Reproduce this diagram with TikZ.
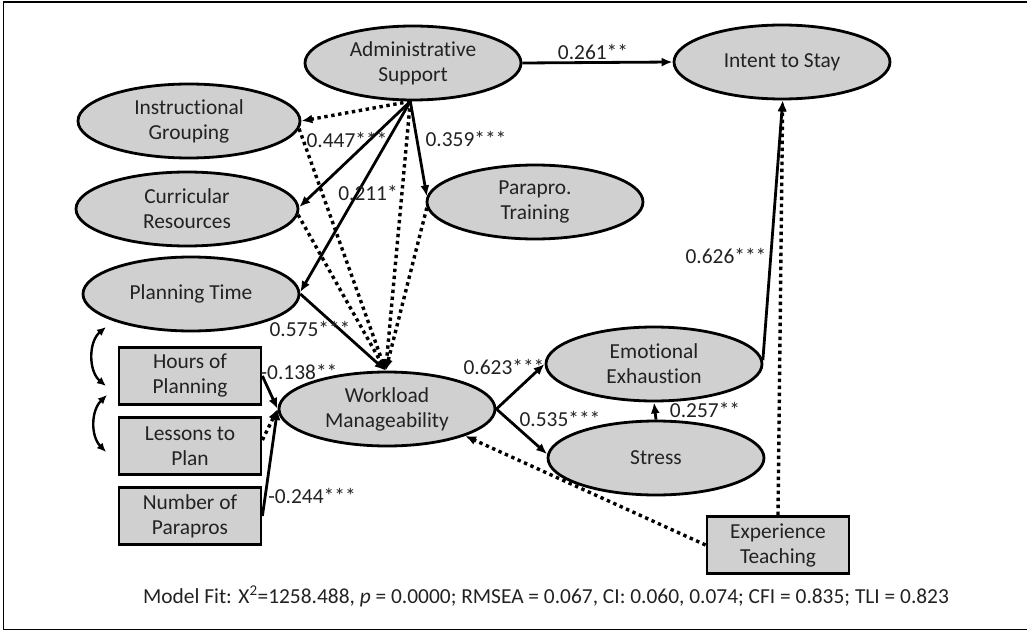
\documentclass[tikz,border=0pt]{standalone}
\usepackage{fontspec}
\setmainfont{Carlito}[Ligatures={NoCommon}]
\usetikzlibrary{shapes.geometric,arrows.meta}
\definecolor{nodegray}{RGB}{208,208,208}
\definecolor{ink}{RGB}{34,34,34}
\begin{document}
\begin{tikzpicture}[x=1pt,y=-1pt,
  txt/.style={font=\fontsize{21.4}{25}\selectfont,text=ink,align=center},
  ell/.style={txt,ellipse,draw=black,line width=2.8pt,fill=nodegray,inner sep=0pt,minimum width=216pt,minimum height=74pt},
  box/.style={txt,rectangle,draw=black,line width=2.8pt,fill=nodegray,inner sep=0pt,minimum width=142pt,minimum height=57pt},
  lbl/.style={txt,inner sep=0pt},
  sarr/.style={line width=2.8pt,-{Latex[length=11pt,width=9pt]}},
  darr/.style={line width=3.4pt,dash pattern=on 3.4pt off 3.6pt,-{Latex[length=11pt,width=9pt]}},
  carr/.style={line width=2.4pt,{Latex[length=9pt,width=8pt]}-{Latex[length=9pt,width=8pt]}}]
\useasboundingbox (0,0) rectangle (1027,631);
\draw[line width=1.6pt] (1030,2) -- (3.5,2) -- (3.5,629.5) -- (1030,629.5);

\node[ell] (adm) at (413,63) {Administrative\\Support};
\node[ell] (its) at (782,62) {Intent to Stay};
\node[ell,minimum width=222pt] (ig) at (189,121) {Instructional\\Grouping};
\node[ell,minimum width=222pt] (cr) at (187,209) {Curricular\\Resources};
\node[ell] (pp) at (535,202) {Parapro.\\Training};
\node[ell] (plt) at (191,294) {Planning Time};
\node[box] (hp) at (190,376) {Hours of\\Planning};
\node[box] (lp) at (190,446) {Lessons to\\Plan};
\node[box] (np) at (190,516) {Number of\\Parapros};
\node[ell] (wm) at (387,409) {Workload\\Manageability};
\node[ell] (ee) at (654,364) {Emotional\\Exhaustion};
\node[ell] (st) at (656,458) {Stress};
\node[box] (ex) at (778,545) {Experience\\Teaching};

\draw[sarr] (adm.east) -- (its.west);
\draw[darr] (adm.-94) -- (ig.0);
\draw[sarr] (adm.-94) -- (cr.1);
\draw[sarr] (adm.-94) -- (plt.1);
\draw[sarr] (adm.-94) -- (pp.177);
\draw[darr] (adm.-94) -- (wm.92);
\draw[darr] (ig.-4) -- (wm.92);
\draw[darr] (cr.-3) -- (wm.92);
\draw[darr] (pp.183) -- (wm.92);
\draw[sarr] (plt.east) -- (wm.92);
\draw[sarr] (hp.east) -- (wm.west);
\draw[darr] ([yshift=6pt]lp.east) -- (wm.west);
\draw[sarr] (np.east) -- (wm.west);
\draw[sarr] (wm.east) -- (ee.west);
\draw[sarr] (wm.east) -- (st.178);
\draw[sarr] (st.north) -- (ee.south);
\draw[sarr] (ee.2) -- (its.-89);
\draw[darr] (ex.north) -- (its.-89);
\draw[darr] (ex.west) -- (wm.-19);

\coordinate (ca1) at (106,327);
\coordinate (ca2) at (106,386);
\coordinate (ca3) at (107,395);
\coordinate (ca4) at (106,452);
\draw[carr] (ca1) to[bend right=50] (ca2);
\draw[carr] (ca3) to[bend right=45] (ca4);

\node[lbl] (l1) at (593,52) {0.261**};
\node[lbl] (l2) at (347,140) {0.447***};
\node[lbl] (l3) at (368,193) {0.211*};
\node[lbl] (l4) at (466,139) {0.359***};
\node[lbl] (l5) at (310,329) {0.575***};
\node[lbl] (l6) at (299,372) {-0.138**};
\node[lbl] (l7) at (312,496) {-0.244***};
\node[lbl] (l8) at (504,367) {0.623***};
\node[lbl] (l9) at (560,419) {0.535***};
\node[lbl] (l10) at (705,410) {0.257**};
\node[lbl] (l11) at (726,256) {0.626***};
\node[lbl,anchor=base] (fit) at (546,603) {Model Fit: X\textsuperscript{2}=1258.488, \textit{p} = 0.0000; RMSEA = 0.067, CI: 0.060, 0.074; CFI = 0.835; TLI = 0.823};
\end{tikzpicture}
\end{document}
